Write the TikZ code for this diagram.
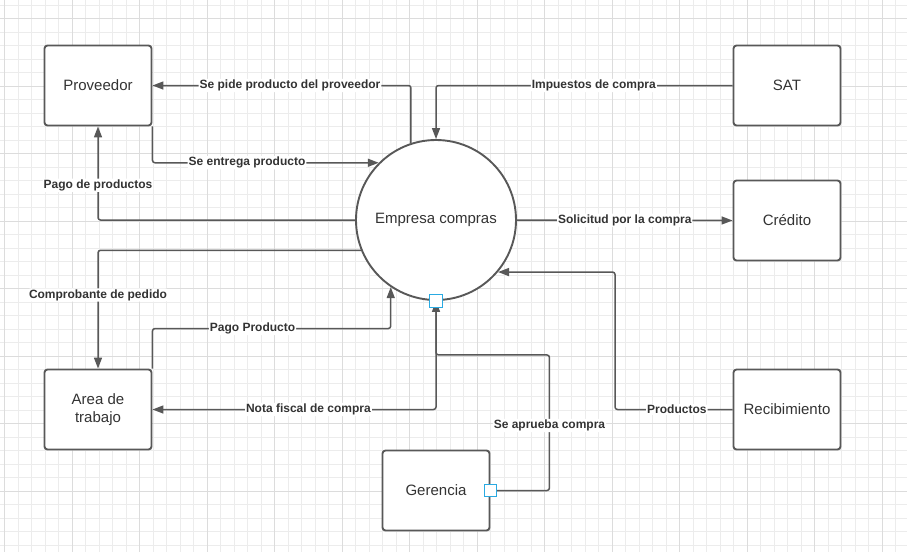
\documentclass[tikz,border=0pt]{standalone}
\usepackage{fontspec}
\setmainfont{Liberation Sans}
\usetikzlibrary{arrows.meta,calc,positioning}
\definecolor{lineg}{RGB}{88,88,88}
\definecolor{txtg}{RGB}{51,51,51}
\definecolor{gridminor}{RGB}{236,236,236}
\definecolor{gridmajor}{RGB}{220,220,220}
\definecolor{portblue}{RGB}{41,170,226}
\tikzset{
  entity/.style={draw=lineg, line width=1.9pt, rounded corners=3pt, fill=white, minimum width=107pt, minimum height=80pt, align=center, text=txtg, font=\fontsize{15}{18}\selectfont},
  process/.style={circle, draw=lineg, line width=1.9pt, fill=white, minimum size=160pt, text=txtg, font=\fontsize{15}{18}\selectfont},
  flow/.style={-{Triangle[length=11pt,width=8pt]}, draw=lineg, line width=1.5pt, rounded corners=2.5pt},
  flowlabel/.style={fill=white, inner sep=1pt, text=txtg, font=\fontsize{12}{14}\selectfont\bfseries},
  port/.style={draw=portblue, fill=white, line width=1.4pt, minimum size=12.5pt, inner sep=0pt}
}

\begin{document}
\begin{tikzpicture}[x=1pt,y=-1pt]
  \useasboundingbox (0,0) rectangle (907,552);
  \foreach \gx in {4.5,18,...,907} \draw[gridminor, line width=0.8pt] (\gx,0)--(\gx,552);
  \foreach \gy in {5,18.5,...,552} \draw[gridminor, line width=0.8pt] (0,\gy)--(907,\gy);
  \foreach \gx in {4.5,72,...,907} \draw[gridmajor, line width=0.8pt] (\gx,0)--(\gx,552);
  \foreach \gy in {18.5,86,...,552} \draw[gridmajor, line width=0.8pt] (0,\gy)--(907,\gy);

  \node[process] (emp) at (436,220) {Empresa compras};
  \node[entity] (prov) at (98,85.5) {Proveedor};
  \node[entity] (sat) at (787,85.5) {SAT};
  \node[entity] (cred) at (787,220.5) {Crédito};
  \node[entity] (recib) at (787,409.5) {Recibimiento};
  \node[entity] (area) at (98,409.5) {Area de\\trabajo};
  \node[entity] (ger) at (436,490.5) {Gerencia};

  \draw[flow] (emp.108) |- node[flowlabel,pos=0.734]{Se pide producto del proveedor} (prov.east);
  \draw[flow] (sat.west) -| node[flowlabel,pos=0.234]{Impuestos de compra} (emp.north);
  \draw[flow] (prov.south east) |- node[flowlabel,pos=0.709]{Se entrega producto} (emp.135);
  \draw[flow] (emp.west) -| node[flowlabel,pos=0.686]{Pago de productos} (prov.south);
  \draw[flow] (emp.east) -- node[flowlabel,pos=0.5]{Solicitud por la compra} (cred.west);
  \draw[flow] (emp.202) -| node[flowlabel,pos=0.689]{Comprobante de pedido} (area.north);
  \draw[flow] (area.north east) -- ++(0,-40) -| node[flowlabel,pos=0.21]{Pago Producto} (emp.236);
  \draw[flow] (emp.south) |- node[flowlabel,pos=0.725]{Nota fiscal de compra} (area.east);
  \draw[flow] (recib.west) -| node[flowlabel,pos=0.237]{Productos} ($(emp.320)+(117,0)$) -- (emp.320);
  \draw[flow] (ger.east) -- ++(59,0) |- node[flowlabel,pos=0.24]{Se aprueba compra} ($(emp.south)+(0,54)$) -- (emp.south);

  \node[port] (portemp) at (emp.south) {};
  \node[port] (portger) at (ger.east) {};
\end{tikzpicture}
\end{document}
